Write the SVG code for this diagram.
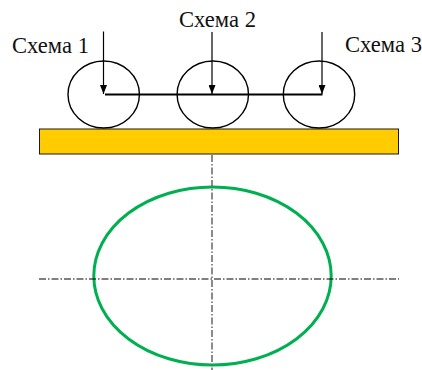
<svg xmlns="http://www.w3.org/2000/svg" width="422" height="370" viewBox="0 0 422 370">
<style>
.t{font-family:"Liberation Serif","Times New Roman",serif;font-size:22.6px;fill:#111}
.wheel{fill:none;stroke:#000;stroke-width:1.4}
.arrow{fill:none;stroke:#000;stroke-width:1.2;marker-end:url(#ah)}
.axis{fill:none;stroke-dasharray:7 2 1.5 2}
</style>
<defs>
<marker id="ah" markerUnits="userSpaceOnUse" markerWidth="10" markerHeight="7" refX="9" refY="3.5" orient="auto" viewBox="0 0 10 7"><path d="M0 0L9 3.5L0 7Z" fill="#000"/></marker>
</defs>
<g id="base"><rect x="39.5" y="129" width="359" height="25" fill="#FFCC00" stroke="#1a1a1a" stroke-width="1"/></g>
<g id="wheel1"><ellipse class="wheel" cx="103.7" cy="94.5" rx="35.7" ry="33.5"/></g>
<g id="wheel2"><ellipse class="wheel" cx="212.8" cy="94.5" rx="35.7" ry="33.5"/></g>
<g id="wheel3"><ellipse class="wheel" cx="319" cy="94.5" rx="35.7" ry="33.5"/></g>
<g id="ellipse"><ellipse cx="212.5" cy="276" rx="118.7" ry="89" fill="none" stroke="#00B050" stroke-width="3"/></g>
<g id="connectors">
<path d="M105 94.5H322.5" fill="none" stroke="#000" stroke-width="1.8"/>
<path class="arrow" d="M103.5 31.5V94"/>
<path class="arrow" d="M212 32V94"/>
<path class="arrow" d="M322 32V94"/>
<path class="axis" d="M212 155V370" stroke="#666" stroke-width="1.5"/>
<path class="axis" d="M39 279H399" stroke="#000" stroke-width="1"/>
</g>
<g id="labels">
<text class="t" x="12" y="53">Схема 1</text>
<text class="t" x="179" y="27">Схема 2</text>
<text class="t" x="345" y="52">Схема 3</text>
</g>
</svg>
